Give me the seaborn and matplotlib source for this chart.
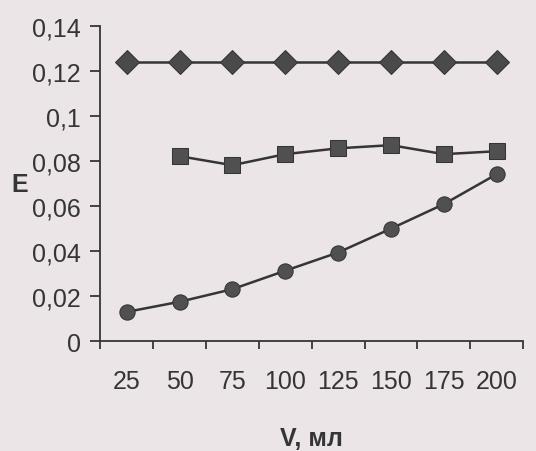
import numpy as np
import pandas as pd
import matplotlib
matplotlib.use('Agg')
import matplotlib.pyplot as plt
import seaborn as sns
from matplotlib.ticker import FuncFormatter, FixedLocator

# данные
v_labels = ['25', '50', '75', '100', '125', '150', '175', '200']
e_diamond = [0.124, 0.124, 0.124, 0.124, 0.124, 0.124, 0.124, 0.124]
e_square = [np.nan, 0.0822, 0.0782, 0.0831, 0.0857, 0.0871, 0.0831, 0.0844]
e_circle = [0.013, 0.0175, 0.0231, 0.0313, 0.0394, 0.050, 0.0609, 0.0742]

sns.set_style('ticks')
plt.rcParams['font.family'] = ['Liberation Sans', 'DejaVu Sans']

bg = '#ebe5e8'
ink = '#353535'

fig = plt.figure(figsize=(5.36, 4.52), dpi=100, facecolor=bg)
ax = fig.add_axes([0.187, 0.243, 0.789, 0.697])
ax.set_facecolor(bg)

pos = np.arange(len(v_labels))
df = pd.DataFrame({'pos': pos, 'd': e_diamond, 's': e_square, 'c': e_circle})

sns.lineplot(data=df, x='pos', y='d', marker='D', markersize=12, color=ink,
             markerfacecolor='#4a4a4a', markeredgecolor=ink, linewidth=1.8, ax=ax)
sns.lineplot(data=df.dropna(), x='pos', y='s', marker='s', markersize=11, color=ink,
             markerfacecolor='#505050', markeredgecolor=ink, linewidth=1.8, ax=ax)
sns.lineplot(data=df, x='pos', y='c', marker='o', markersize=11, color=ink,
             markerfacecolor='#505050', markeredgecolor=ink, linewidth=1.8, ax=ax)

ax.set_xlim(-0.5, len(v_labels) - 0.5)
ax.set_ylim(0, 0.14)
ax.set_yticks(np.arange(0, 0.141, 0.02))
ax.yaxis.set_major_formatter(FuncFormatter(
    lambda v, p: '0' if abs(v) < 1e-9 else ('%g' % round(v, 2)).replace('.', ',')))

ax.set_xticks(pos)
ax.set_xticklabels(v_labels)
ax.xaxis.set_minor_locator(FixedLocator(np.arange(-0.5, len(v_labels), 1)))
ax.tick_params(axis='x', which='major', length=0, pad=20, labelsize=18, colors=ink)
ax.tick_params(axis='x', which='minor', length=6, width=1.3, color=ink, direction='out')
ax.tick_params(axis='y', length=7, width=1.3, color=ink, labelsize=18, labelcolor=ink, pad=7)

for side in ['top', 'right']:
    ax.spines[side].set_visible(False)
for side in ['left', 'bottom']:
    ax.spines[side].set_color(ink)
    ax.spines[side].set_linewidth(1.3)

ax.set_xlabel('V, мл', fontsize=18, fontweight='bold', color=ink, labelpad=24)
ax.set_ylabel('E', fontsize=18, fontweight='bold', color=ink, rotation=0, va='center')
ax.yaxis.set_label_coords(-0.19, 0.5)

fig.savefig('out.png', dpi=100, facecolor=bg)
